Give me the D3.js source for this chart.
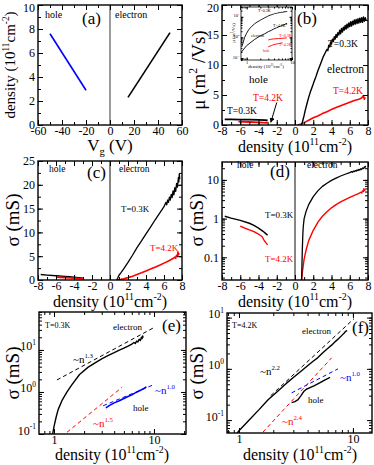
<!DOCTYPE html>
<html>
<head>
<meta charset="utf-8">
<script src="https://cdn.jsdelivr.net/npm/d3@7"></script>
<style>
  body { margin: 0; background: #fff; }
  svg { display: block; }
  svg text { font-family: "Liberation Serif", "Times New Roman", serif; }
</style>
</head>
<body>
<div id="chart"></div>
<script>
// ---------------- data ----------------
// (a) density vs gate voltage
const vgHole = [[-50, 7.6], [-20, 2.9]];
const vgElec = [[15, 2.3], [50, 7.7]];

// (b) mobility vs density
const muE03 = [[0.7,0],[0.8,0.4],[0.9,1.0],[1.0,1.6],[1.1,2.3],[1.2,2.9],[1.3,3.5],[1.5,4.6],[1.7,5.6],[1.9,6.4],[2.1,7.3],[2.3,8.1],[2.5,9.0],[2.7,9.8],[2.9,10.6],[3.1,11.4],[3.3,12.0],[3.5,12.6],[3.6,12.4],[3.7,13.3],[3.8,13.0],[3.9,13.8],[4.0,13.5],[4.1,14.3],[4.2,13.9],[4.3,14.7],[4.4,14.3],[4.5,15.1],[4.6,14.6],[4.7,15.4],[4.8,15.0],[4.9,15.8],[5.0,15.2],[5.1,16.1],[5.2,15.5],[5.3,16.3],[5.4,15.8],[5.5,16.6],[5.6,16.0],[5.7,16.8],[5.8,16.2],[5.9,17.0],[6.0,16.4],[6.1,17.2],[6.2,16.5],[6.3,17.3],[6.4,16.7],[6.5,17.5],[6.6,16.8],[6.7,17.6],[6.8,16.9],[6.9,17.7],[7.0,17.0],[7.1,17.8],[7.2,17.1],[7.3,17.9],[7.4,17.1],[7.5,18.0],[7.6,17.3],[7.7,17.9],[7.8,17.4]];
const muE42 = [[0.3,0],[0.6,0.1],[1,0.4],[1.5,0.8],[2,1.2],[2.5,1.5],[3,1.9],[3.5,2.2],[4,2.6],[4.5,2.9],[5,3.2],[5.5,3.5],[6,3.8],[6.5,4.1],[7,4.3],[7.3,4.5],[7.5,4.9],[7.6,4.3],[7.7,4.6]];
const muH03 = [[-7.7,0.95],[-7,0.93],[-6,0.9],[-5,0.88],[-4,0.85],[-3.3,0.8],[-3,0.75]];
const muH42 = [[-6.2,0.55],[-5,0.5],[-4,0.45],[-3.5,0.4],[-3,0.35]];

// (c),(d) conductivity vs density
const sigE03 = [[0.72,0.025],[0.76,0.06],[0.8,0.15],[0.85,0.35],[0.9,0.6],[1.0,1.0],[1.2,1.5],[1.5,2.3],[2,3.7],[2.5,5.2],[3,6.8],[3.5,8.2],[4,9.7],[4.5,11.1],[5,12.6],[5.5,14.0],[6,15.4],[6.2,16.3],[6.3,15.8],[6.4,16.8],[6.5,16.3],[6.6,17.4],[6.7,16.8],[6.8,18.0],[6.9,17.3],[7.0,18.7],[7.1,17.9],[7.2,19.4],[7.3,18.6],[7.4,20.3],[7.5,19.5],[7.6,21.5],[7.65,20.6],[7.7,22.3],[7.75,21.2]];
const sigE42 = [[0.72,0.025],[0.8,0.04],[0.9,0.06],[1.0,0.09],[1.2,0.15],[1.5,0.27],[2,0.5],[2.5,0.8],[3,1.15],[3.5,1.5],[4,1.9],[4.5,2.3],[5,2.7],[5.5,3.1],[6,3.55],[6.5,4.0],[7,4.5],[7.2,4.8],[7.3,4.6],[7.4,5.2],[7.5,5.0],[7.55,5.9],[7.6,5.3],[7.7,5.6]];
const sigH03 = [[-7.7,1.15],[-7,1.03],[-6,0.9],[-5,0.76],[-4.5,0.67],[-4,0.57],[-3.5,0.47],[-3.2,0.41],[-3,0.37]];
const sigH42 = [[-6,0.64],[-5.5,0.57],[-5,0.51],[-4.5,0.46],[-4,0.4],[-3.6,0.34],[-3.4,0.28],[-3.2,0.24],[-3,0.21]];

// (e) log-log, T=0.3K
const logE03 = [[0.97,0.1],[1.0,0.15],[1.05,0.25],[1.1,0.38],[1.2,0.62],[1.35,1.0],[1.5,1.45],[1.8,2.6],[2.2,3.9],[2.6,5.0],[3,6.1],[3.5,7.4],[4,8.6],[4.5,9.9],[5,11],[5.5,12.3],[6,13.8],[6.3,15],[6.5,14.2],[6.7,16.3],[6.9,15.4],[7.1,18],[7.3,16.8],[7.5,20],[7.6,18.5],[7.7,21.5],[7.8,19.5]];
const logH03 = [[3.3,0.42],[3.6,0.48],[4,0.55],[4.5,0.62],[5,0.7],[5.5,0.78],[6,0.86],[6.5,0.95],[7,1.04],[7.5,1.13],[8,1.23],[8.4,1.32]];
const fitE13 = [[1.07,1.93],[10.2,35]];
const fitH15 = [[1.35,0.11],[4.8,1.3]];
const fitH10e = [[3.1,0.47],[9.8,1.47]];

// (f) log-log, T=4.2K
const logE42 = [[0.93,0.05],[1.0,0.062],[1.2,0.095],[1.5,0.16],[1.8,0.25],[2.2,0.37],[2.6,0.52],[3,0.68],[3.5,0.9],[4,1.15],[4.5,1.42],[4.9,1.64],[5.5,2.1],[6,2.5],[6.5,2.9],[7,3.4],[7.5,3.9],[8,4.5],[8.4,5.0],[8.6,5.4],[8.9,5.6]];
const logH42 = [[2.9,0.22],[3.1,0.23],[3.3,0.25],[3.5,0.3],[3.7,0.36],[3.9,0.4],[4.2,0.43],[4.6,0.47],[5.1,0.53],[5.7,0.61],[6.3,0.68]];
const fitE22 = [[1.9,0.3],[10.2,9.5]];
const fitH24 = [[1.62,0.058],[6.5,1.64]];
const fitH10f = [[2.9,0.34],[7.4,1.0]];

// tick values
const vgTicks = [-60, -40, -20, 0, 20, 40, 60];
const densTicksA = [0, 2, 4, 6, 8, 10];
const nTicks = [-8, -6, -4, -2, 0, 2, 4, 6, 8];
const muTicks = [0, 5, 10, 15, 20];
const sigTicks = [0, 5, 10, 15, 20, 25];

// ---------------- setup ----------------
const width = 374, height = 465;
const RED = '#ff0000', BLUE = '#0000ff';
const SERIF = '"Liberation Serif", "Times New Roman", serif';

const svg = d3.select('#chart').append('svg')
  .attr('width', width)
  .attr('height', height)
  .attr('viewBox', [0, 0, width, height])
  .attr('font-family', SERIF);
const defs = svg.append('defs');

const line = (x, y) => d3.line().x(d => x(d[0])).y(d => y(d[1]));

// minor ticks of a log axis: 1..9 times each decade inside the domain
function logMinor(scale) {
  const [a, b] = scale.domain();
  const out = [];
  for (let e = Math.floor(Math.log10(a)); e <= Math.ceil(Math.log10(b)); e++) {
    for (let k = 1; k < 10; k++) {
      const v = k * Math.pow(10, e);
      if (v >= a && v <= b) out.push(v);
    }
  }
  return out;
}

// write text with super/subscripts: parts = [[str, 'sup'|'sub'|undefined], ...]
function rich(sel, parts, size) {
  let shift = 0;
  parts.forEach(([s, kind]) => {
    const target = kind === 'sup' ? -size * 0.42 : kind === 'sub' ? size * 0.25 : 0;
    const t = sel.append('tspan').text(s).attr('dy', target - shift);
    if (kind) t.attr('font-size', size * 0.62);
    shift = target;
  });
  return sel;
}

function label(g, x, y, parts, size, color, anchor) {
  const t = g.append('text')
    .attr('x', x).attr('y', y)
    .attr('font-size', size)
    .attr('fill', color || '#000')
    .attr('text-anchor', anchor || 'start');
  if (typeof parts === 'string') t.text(parts);
  else rich(t, parts, size);
  return t;
}

// frame with inward ticks on all four sides
function frame(g, x, y, opt) {
  const [l, r] = x.range(), [b, t] = y.range();
  const tk = opt.tick || 5, mk = opt.minor || 3;
  const fs = opt.fs || 12;

  const sides = [
    [d3.axisBottom, x, `translate(0,${b})`, true],
    [d3.axisTop, x, `translate(0,${t})`, false],
    [d3.axisLeft, y, `translate(${l},0)`, true],
    [d3.axisRight, y, `translate(${r},0)`, false]
  ];
  sides.forEach(([ax, sc, tr, labels], i) => {
    const horiz = i < 2;
    const major = horiz ? opt.xMajor : opt.yMajor;
    const minor = horiz ? opt.xMinor : opt.yMinor;
    const fmt = horiz ? opt.xFormat : opt.yFormat;
    if (minor) {
      g.append('g').attr('transform', tr)
        .call(ax(sc).tickValues(minor).tickSize(-mk).tickSizeOuter(0).tickFormat(''))
        .call(s => s.select('.domain').remove());
    }
    const a = g.append('g').attr('transform', tr)
      .call(ax(sc).tickValues(major).tickSize(-tk).tickSizeOuter(0)
        .tickPadding(horiz ? (opt.padX || 1.5) : (opt.padY || 3))
        .tickFormat(labels ? (fmt || (d => d)) : ''))
      .call(s => s.select('.domain').remove())
      .attr('font-family', SERIF);
    a.selectAll('text').attr('font-size', fs).attr('fill', '#000');
    // keep the top label of the y axis inside the picture
    if (!horiz && opt.topShift) {
      const top = d3.max(major);
      a.selectAll('text').filter(d => d === top).attr('dy', opt.topShift + 'em');
    }
    a.selectAll('line').attr('stroke', '#000');
    if (labels && (horiz ? opt.xPow : opt.yPow)) {
      a.selectAll('text').each(function(d) {
        const e = Math.round(Math.log10(d));
        const s = d3.select(this).text(null);
        rich(s, [['10'], [String(e), 'sup']], fs);
      });
    }
  });
  return g.append('rect')
    .attr('x', l).attr('y', t).attr('width', r - l).attr('height', b - t)
    .attr('fill', 'none').attr('stroke', '#000').attr('stroke-width', opt.frameW || 1.4);
}

let clipN = 0;
function clip(x, y) {
  const [l, r] = x.range(), [b, t] = y.range();
  const id = 'clip' + (clipN++);
  defs.append('clipPath').attr('id', id)
    .append('rect').attr('x', l).attr('y', t).attr('width', r - l).attr('height', b - t);
  return svg.append('g').attr('clip-path', `url(#${id})`);
}

function curve(g, data, x, y, color, w, dash) {
  g.append('path').datum(data)
    .attr('d', line(x, y))
    .attr('fill', 'none')
    .attr('stroke', color)
    .attr('stroke-width', w || 1.3)
    .attr('stroke-dasharray', dash || null)
    .attr('stroke-linejoin', 'round');
}

function zeroLine(g, x, y, color) {
  const [b, t] = y.range();
  g.append('line').attr('x1', x(0)).attr('x2', x(0)).attr('y1', b).attr('y2', t)
    .attr('stroke', color).attr('stroke-width', 1.3);
}

const densLabel = [['density (10'], ['11', 'sup'], ['cm'], ['-2', 'sup'], [')']];

function yLabel(g, x, y, parts, size) {
  const t = g.append('text')
    .attr('transform', `translate(${x},${y}) rotate(-90)`)
    .attr('font-size', size)
    .attr('text-anchor', 'middle');
  if (typeof parts === 'string') t.text(parts); else rich(t, parts, size);
}

// ---------------- (a) ----------------
{
  const x = d3.scaleLinear().domain([-60, 60]).range([38, 182]);
  const y = d3.scaleLinear().domain([0, 10]).range([125, 5]);
  const c = clip(x, y);
  zeroLine(c, x, y, '#666');
  curve(c, vgHole, x, y, BLUE, 1.6);
  curve(c, vgElec, x, y, '#000', 1.6);
  const g = svg.append('g');
  frame(g, x, y, { xMajor: vgTicks, xMinor: d3.range(-60, 61, 10), yMajor: densTicksA, yMinor: d3.range(0, 11, 1), topShift: 0.55 });
  label(g, 45, 18, 'hole', 10);
  label(g, 115, 18, 'electron', 10);
  label(g, 82, 24, '(a)', 17);
  yLabel(g, 15, 65, densLabel, 15);
  label(g, 110, 151, [['V'], ['g', 'sub'], [' (V)']], 17, '#000', 'middle');
}

// ---------------- (b) ----------------
{
  const x = d3.scaleLinear().domain([-8, 8]).range([222, 368]);
  const y = d3.scaleLinear().domain([0, 20]).range([125, 5]);
  const c = clip(x, y);
  zeroLine(c, x, y, '#444');
  curve(c, muH03, x, y, '#000', 1.8);
  curve(c, muH42, x, y, RED, 1.8);
  curve(c, muE42, x, y, RED, 1.6);
  curve(c, muE03, x, y, '#000', 1.4);
  const g = svg.append('g');
  frame(g, x, y, { xMajor: nTicks, xMinor: d3.range(-8, 9, 1), yMajor: muTicks, yMinor: d3.range(0, 21, 2.5), topShift: 0.55 });
  label(g, 297, 24, '(b)', 17);
  label(g, 328, 47, 'T=0.3K', 9.5);
  label(g, 327, 73, 'electron', 11.5);
  label(g, 333, 94, 'T=4.2K', 9.5, RED);
  label(g, 249, 83, 'hole', 11);
  label(g, 253, 101, 'T=4.2K', 9.5, RED);
  label(g, 227, 114, 'T=0.3K', 9.5);
  // arrow from label to hole data
  defs.append('marker').attr('id', 'arr')
    .attr('viewBox', '0 0 10 10').attr('refX', 9).attr('refY', 5)
    .attr('markerWidth', 5).attr('markerHeight', 5).attr('orient', 'auto')
    .append('path').attr('d', 'M0,0L10,5L0,10z').attr('fill', '#000');
  g.append('line').attr('x1', x(-2.0)).attr('y1', y(3.75)).attr('x2', x(-2.65)).attr('y2', y(0.45))
    .attr('stroke', '#000').attr('stroke-width', 1).attr('marker-end', 'url(#arr)');
  yLabel(g, 205, 70, [['\u03bc (m'], ['2', 'sup'], [' /Vs)']], 19);
  label(g, 295, 151.5, densLabel, 16, '#000', 'middle');

  // inset
  const xi = d3.scaleLog().domain([0.75, 10]).range([241, 292]);
  const yi = d3.scaleLog().domain([0.08, 30]).range([60, 7]);
  g.append('rect').attr('x', 241).attr('y', 7).attr('width', 51).attr('height', 53).attr('fill', '#fff');
  const ci = clip(xi, yi);
  const abs = arr => arr.map(d => [Math.abs(d[0]), d[1]]).filter(d => d[1] > 0);
  curve(ci, abs(muE03), xi, yi, '#000', 0.9);
  curve(ci, abs(muE42), xi, yi, '#000', 0.9);
  curve(ci, abs(muH03), xi, yi, RED, 0.9);
  curve(ci, abs(muH42), xi, yi, RED, 0.9);
  const gi = svg.append('g');
  frame(gi, xi, yi, { tick: 2.5, minor: 1.5, fs: 4.5, padX: 1, padY: 1.5, frameW: 0.8,
    xMajor: [1, 10], xMinor: logMinor(xi), yMajor: [0.1, 1, 10], yMinor: logMinor(yi), yPow: true });
  label(gi, 258, 12, 'T=0.3K', 4);
  label(gi, 273, 27, 'T=4.2K', 4);
  label(gi, 251, 37, 'electron', 4);
  label(gi, 279, 37, 'T=0.3K', 4, RED);
  label(gi, 279, 46, 'T=4.2K', 4, RED);
  label(gi, 263, 52, 'hole', 4, RED);
  yLabel(gi, 235, 33, [['\u03bc (m'], ['2', 'sup'], ['/Vs)']], 5);
  label(gi, 266, 68, densLabel, 5, '#000', 'middle');
}

// ---------------- (c) ----------------
{
  const x = d3.scaleLinear().domain([-8, 8]).range([38, 182]);
  const y = d3.scaleLinear().domain([0, 25]).range([280, 161]);
  const c = clip(x, y);
  zeroLine(c, x, y, '#444');
  curve(c, sigH03, x, y, '#000', 1.4);
  curve(c, sigH42, x, y, RED, 1.8);
  curve(c, sigE42, x, y, RED, 1.6);
  curve(c, sigE03, x, y, '#000', 1.3);
  const g = svg.append('g');
  frame(g, x, y, { xMajor: nTicks, xMinor: d3.range(-8, 9, 1), yMajor: sigTicks, yMinor: d3.range(0, 26, 2.5) });
  label(g, 49, 172, 'hole', 9.5);
  label(g, 87, 178, '(c)', 17);
  label(g, 119, 172, 'electron', 9.5);
  label(g, 121, 212, 'T=0.3K', 9);
  label(g, 150, 251, 'T=4.2K', 9, RED);
  yLabel(g, 19, 220, '\u03c3 (mS)', 19);
  label(g, 110, 306.5, densLabel, 16, '#000', 'middle');
}

// ---------------- (d) ----------------
{
  const x = d3.scaleLinear().domain([-8, 8]).range([222, 368]);
  const y = d3.scaleLog().domain([0.026, 29]).range([280, 162]);
  const c = clip(x, y);
  zeroLine(c, x, y, '#444');
  curve(c, sigH03, x, y, '#000', 1.4);
  curve(c, sigH42, x, y, RED, 1.4);
  curve(c, sigE42, x, y, RED, 1.4);
  curve(c, sigE03, x, y, '#000', 1.3);
  const g = svg.append('g');
  frame(g, x, y, { xMajor: nTicks, xMinor: d3.range(-8, 9, 1), yMajor: [0.1, 1, 10], yMinor: logMinor(y) });
  label(g, 237, 168, 'hole', 9.5);
  label(g, 270, 177, '(d)', 17);
  label(g, 307, 168, 'electron', 9.5);
  label(g, 265, 218, 'T=0.3K', 9);
  label(g, 265, 262, 'T=4.2K', 9, RED);
  yLabel(g, 203, 220, '\u03c3 (mS)', 19);
  label(g, 295, 306.5, densLabel, 16, '#000', 'middle');
}

// ---------------- (e) ----------------
{
  const x = d3.scaleLog().domain([0.708, 20.9]).range([39, 186]);
  const y = d3.scaleLog().domain([0.1, 80]).range([434, 312]);
  const c = clip(x, y);
  curve(c, fitE13, x, y, '#000', 1, '4,3');
  curve(c, logE03, x, y, '#000', 1.4);
  curve(c, logH03, x, y, BLUE, 1.6);
  curve(c, fitH15, x, y, RED, 1, '4,3');
  curve(c, fitH10e, x, y, BLUE, 1, '4,3');
  const g = svg.append('g');
  frame(g, x, y, { xMajor: [1, 10], xMinor: logMinor(x), yMajor: [0.1, 1, 10], yMinor: logMinor(y), yPow: true });
  label(g, 45, 328, 'T=0.3K', 8);
  label(g, 113, 330, 'electron', 9);
  label(g, 162, 331, '(e)', 17);
  label(g, 73, 363, [['~n'], ['1.3', 'sup']], 11);
  label(g, 155, 394, [['~n'], ['1.0', 'sup']], 11, BLUE);
  label(g, 133, 411, 'hole', 9);
  label(g, 93, 427, [['~n'], ['1.5', 'sup']], 11, RED);
  yLabel(g, 19, 373, '\u03c3 (mS)', 19);
  label(g, 112, 460, densLabel, 16, '#000', 'middle');
}

// ---------------- (f) ----------------
{
  const x = d3.scaleLog().domain([0.785, 14.7]).range([227, 372]);
  const y = d3.scaleLog().domain([0.056, 12.3]).range([433, 313]);
  const c = clip(x, y);
  curve(c, fitE22, x, y, '#000', 1, '4,3');
  curve(c, logE42, x, y, '#000', 1.4);
  curve(c, logH42, x, y, '#000', 1.4);
  curve(c, fitH24, x, y, RED, 1, '4,3');
  curve(c, fitH10f, x, y, BLUE, 1, '4,3');
  const g = svg.append('g');
  frame(g, x, y, { xMajor: [1, 10], xMinor: logMinor(x), yMajor: [0.1, 1, 10], yMinor: logMinor(y), yPow: true });
  label(g, 232, 328, 'T=4.2K', 8);
  label(g, 302, 334, 'electron', 9);
  label(g, 352, 333, '(f)', 17);
  label(g, 260, 375, [['~n'], ['2.2', 'sup']], 11);
  label(g, 340, 381, [['~n'], ['1.0', 'sup']], 11, BLUE);
  label(g, 308, 403, 'hole', 9);
  label(g, 282, 425, [['~n'], ['2.4', 'sup']], 11, RED);
  yLabel(g, 203, 373, '\u03c3 (mS)', 19);
  label(g, 300, 460, densLabel, 16, '#000', 'middle');
}
</script>
</body>
</html>
